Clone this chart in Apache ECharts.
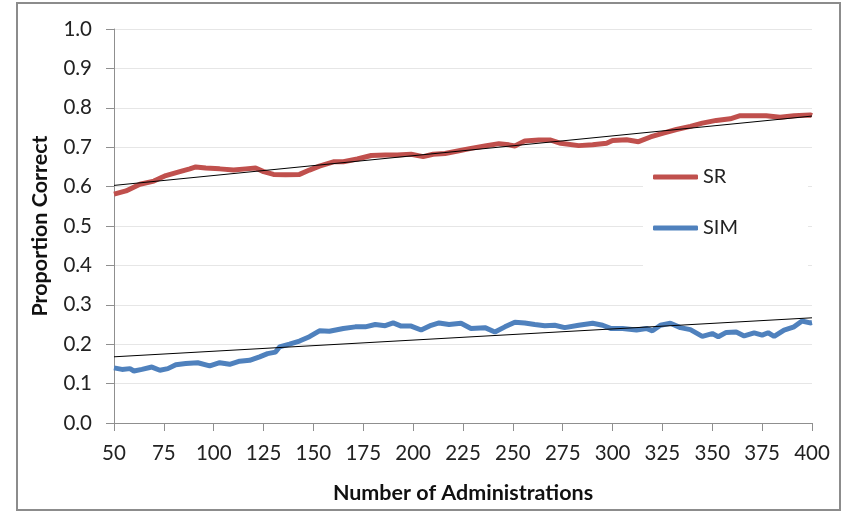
<!DOCTYPE html>
<html>
<head>
<meta charset="utf-8">
<script src="https://cdn.jsdelivr.net/npm/echarts@6/dist/echarts.min.js"></script>
<style>
html,body{margin:0;padding:0;background:#fff;}
#chart{width:846px;height:513px;}
</style>
</head>
<body>
<div id="chart"></div>
<script>
var xTicks = [50, 75, 100, 125, 150, 175, 200, 225, 250, 275, 300, 325, 350, 375, 400];
var yTicks = [0.0, 0.1, 0.2, 0.3, 0.4, 0.5, 0.6, 0.7, 0.8, 0.9, 1.0];

var srX = [50,56,63,70,76,83,88,91,96,103,110,116,121,125,130,136,143,148,153,160,165,172,179,186,192,199,205,210,216,223,229,236,243,248,251,256,263,269,274,283,290,297,300,307,313,319,325,332,339,345,352,359,364,371,377,384,391,399,400];
var srY = [0.581,0.589,0.606,0.614,0.628,0.638,0.645,0.650,0.647,0.645,0.642,0.645,0.647,0.638,0.631,0.630,0.631,0.642,0.652,0.663,0.663,0.670,0.679,0.680,0.680,0.682,0.676,0.682,0.684,0.691,0.697,0.703,0.709,0.706,0.703,0.716,0.718,0.718,0.710,0.704,0.706,0.710,0.717,0.719,0.714,0.726,0.735,0.745,0.753,0.761,0.768,0.772,0.780,0.780,0.780,0.776,0.780,0.782,0.780];

var simX = [50,54,58,60,64,69,73,77,81,86,92,98,103,108,113,118,123,127,131,133,138,143,148,153,158,165,171,176,181,186,190,194,199,204,209,213,218,224,229,236,241,246,251,256,261,266,271,276,283,290,295,299,305,312,317,320,324,329,334,339,345,350,353,357,362,366,371,375,378,381,386,391,395,399,400];
var simY = [0.140,0.136,0.138,0.132,0.136,0.142,0.134,0.138,0.148,0.151,0.153,0.145,0.153,0.149,0.157,0.159,0.168,0.176,0.180,0.193,0.200,0.208,0.219,0.234,0.233,0.240,0.244,0.244,0.250,0.247,0.254,0.246,0.246,0.236,0.248,0.254,0.250,0.253,0.240,0.242,0.231,0.244,0.256,0.254,0.250,0.247,0.248,0.242,0.248,0.253,0.248,0.240,0.240,0.236,0.240,0.234,0.248,0.253,0.242,0.237,0.220,0.227,0.219,0.230,0.231,0.221,0.229,0.223,0.229,0.220,0.236,0.244,0.259,0.254,0.255];

var trendX = [50, 400];
var srTrend = [0.603, 0.779];
var simTrend = [0.168, 0.267];

function zip(a, b) { return a.map(function (v, i) { return [v, b[i]]; }); }

var FONT = 'Lato';
var chart = echarts.init(document.getElementById('chart'), null, {renderer: 'canvas'});
chart.setOption({
  animation: false,
  backgroundColor: '#fff',
  textStyle: {fontFamily: FONT},
  grid: {left: 114, right: 34, top: 29, bottom: 90, containLabel: false},
  graphic: [{
    type: 'rect', z: 100, silent: true,
    shape: {x: 17, y: 3, width: 823, height: 507},
    style: {fill: 'none', stroke: '#8c8c8c', lineWidth: 2}
  }],
  legend: {
    orient: 'vertical',
    left: 643, top: 153,
    padding: [14, 70, 40, 10],
    backgroundColor: '#fff',
    icon: 'roundRect',
    itemWidth: 45, itemHeight: 5, itemGap: 31,
    data: ['SR', 'SIM'],
    textStyle: {fontFamily: FONT, fontSize: 20, color: '#222', lineHeight: 20}
  },
  xAxis: {
    type: 'value', min: 50, max: 400, interval: 25,
    name: 'Number of Administrations', nameLocation: 'middle', nameGap: 59,
    nameTextStyle: {fontFamily: FONT, fontSize: 21.5, fontWeight: 'bold', color: '#111'},
    axisLine: {show: true, lineStyle: {color: '#8f8f8f', width: 1}},
    axisTick: {show: true, length: 8, lineStyle: {color: '#8f8f8f'}},
    axisLabel: {margin: 20, fontFamily: FONT, fontSize: 20.5, color: '#222',
      customValues: xTicks, formatter: function (v) { return String(v); }},
    splitLine: {show: false}
  },
  yAxis: {
    type: 'value', min: 0, max: 1, interval: 0.1,
    name: 'Proportion Correct', nameLocation: 'middle', nameGap: 63,
    nameTextStyle: {fontFamily: FONT, fontSize: 21.5, fontWeight: 'bold', color: '#111'},
    axisLine: {show: true, lineStyle: {color: '#8f8f8f', width: 1}},
    axisTick: {show: true, length: 8, lineStyle: {color: '#8f8f8f'}},
    axisLabel: {margin: 22, fontFamily: FONT, fontSize: 20.5, color: '#222',
      formatter: function (v) { return v.toFixed(1); }},
    splitLine: {show: true, lineStyle: {color: '#e6e6e6', width: 1}}
  },
  series: [
    {name: 'SR', type: 'line', data: zip(srX, srY), symbol: 'none', clip: false,
      lineStyle: {color: '#C0504D', width: 5}, itemStyle: {color: '#C0504D'}, z: 2},
    {name: 'SIM', type: 'line', data: zip(simX, simY), symbol: 'none', clip: false,
      lineStyle: {color: '#4F81BD', width: 5}, itemStyle: {color: '#4F81BD'}, z: 2},
    {name: 'SR trend', type: 'line', data: zip(trendX, srTrend), symbol: 'none',
      lineStyle: {color: '#000', width: 1}, z: 3},
    {name: 'SIM trend', type: 'line', data: zip(trendX, simTrend), symbol: 'none',
      lineStyle: {color: '#000', width: 1}, z: 3}
  ]
});
</script>
</body>
</html>
